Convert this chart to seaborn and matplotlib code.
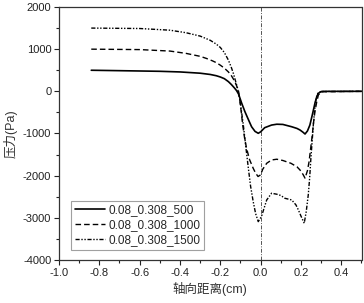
import numpy as np
import pandas as pd
import matplotlib
matplotlib.use("Agg")
import matplotlib.pyplot as plt
from matplotlib.ticker import MultipleLocator
import seaborn as sns

labels = ["0.08_0.308_500", "0.08_0.308_1000", "0.08_0.308_1500"]

x_500 = [-0.84, -0.7, -0.5, -0.4, -0.3, -0.25, -0.22, -0.2, -0.18, -0.16, -0.145, -0.13, -0.12, -0.11,
         -0.095, -0.078, -0.06, -0.045, -0.028, -0.012, 0.0, 0.02, 0.054, 0.08, 0.11, 0.154, 0.18, 0.195,
         0.21, 0.22, 0.232, 0.244, 0.256, 0.269, 0.278, 0.286, 0.298, 0.31, 0.5]
y_500 = [500, 490, 475, 460, 430, 400, 370, 340, 300, 230, 160, 80, 20, -60,
         -270, -483, -680, -840, -950, -995, -960, -862, -800, -780, -785, -840, -880, -917,
         -970, -1012, -940, -800, -560, -285, -130, -47, -10, 0, 0]

x_1000 = [-0.84, -0.6, -0.45, -0.37, -0.3, -0.27, -0.24, -0.22, -0.2, -0.18, -0.16, -0.145, -0.13, -0.12,
          -0.11, -0.1, -0.09, -0.08, -0.07, -0.055, -0.037, -0.025, -0.013, 0.0, 0.01, 0.03, 0.054, 0.08,
          0.11, 0.15, 0.18, 0.195, 0.21, 0.22, 0.232, 0.24, 0.248, 0.256, 0.262, 0.269, 0.278, 0.286,
          0.30, 0.5]
y_1000 = [1000, 990, 955, 900, 830, 782, 725, 680, 620, 550, 460, 370, 250, 140,
          10, -330, -760, -1100, -1350, -1620, -1825, -1940, -2020, -1980, -1850, -1706, -1628, -1610,
          -1640, -1706, -1790, -1865, -1970, -2060, -1880, -1668, -1350, -1035, -750, -483, -250, -88,
          -10, 0]

x_1500 = [-0.84, -0.6, -0.45, -0.37, -0.3, -0.25, -0.22, -0.2, -0.18, -0.16, -0.145, -0.135, -0.125,
          -0.115, -0.105, -0.095, -0.086, -0.074, -0.061, -0.05, -0.037, -0.025, -0.012, 0.004, 0.015,
          0.03, 0.054, 0.08, 0.1, 0.12, 0.154, 0.175, 0.187, 0.2, 0.216, 0.226, 0.236, 0.243, 0.249,
          0.255, 0.261, 0.267, 0.272, 0.28, 0.286, 0.30, 0.5]
y_1500 = [1500, 1490, 1450, 1390, 1310, 1210, 1120, 1040, 920, 740, 560, 420, 250,
          80, -150, -480, -800, -1300, -1825, -2250, -2616, -2900, -3090, -2970, -2800,
          -2576, -2417, -2440, -2470, -2536, -2576, -2694, -2813, -2960, -3128, -2850, -2457, -2050, -1588,
          -1200, -800, -480, -246, -80, -30, -5, 0]

x_ticks = [-1.0, -0.8, -0.6, -0.4, -0.2, 0.0, 0.2, 0.4]
y_ticks = [-4000, -3000, -2000, -1000, 0, 1000, 2000]

sns.set_style("ticks")
plt.rcParams['font.family'] = ['Liberation Sans', 'Noto Sans CJK SC', 'DejaVu Sans']

fig = plt.figure(figsize=(3.64, 3.03), dpi=100)
ax = fig.add_axes([59/364, 1-260/303, (361.5-59)/364, (260-7)/303])

series = [(x_500, y_500, labels[0], '-', 1.2),
          (x_1000, y_1000, labels[1], (0, (4, 2.2)), 1.0),
          (x_1500, y_1500, labels[2], (0, (3, 1.2, 1, 1.2, 1, 1.2)), 1.0)]
for xs, ys, lab, ls, lw in series:
    df = pd.DataFrame({"x": xs, "y": ys})
    sns.lineplot(data=df, x="x", y="y", ax=ax, color="black", linestyle=ls,
                 linewidth=lw, label=lab, sort=False, estimator=None)

ax.axvline(0, color="#555555", lw=0.7, linestyle=(0, (4, 1.5, 1, 1.5)), zorder=0)

ax.set_xlim(-1.0, 0.5)
ax.set_ylim(-4000, 2000)
ax.set_xticks(x_ticks)
ax.set_xticklabels([f"{v:.1f}" for v in x_ticks])
ax.set_yticks(y_ticks)
ax.set_yticklabels([str(v) for v in y_ticks])
ax.xaxis.set_minor_locator(MultipleLocator(0.1))
ax.yaxis.set_minor_locator(MultipleLocator(500))
ax.tick_params(axis='both', which='major', direction='out', length=3.5, width=0.8,
               labelsize=8, colors='#222222', pad=2)
ax.tick_params(axis='both', which='minor', direction='out', length=2, width=0.8, colors='#222222')
for s in ax.spines.values():
    s.set_visible(True)
    s.set_color('#333333')
    s.set_linewidth(0.9)

ax.set_xlabel("轴向距离(cm)", fontsize=9, color='#333333', labelpad=3)
ax.set_ylabel("压力(Pa)", fontsize=9, color='#333333', labelpad=4)

leg = ax.legend(loc='lower left', bbox_to_anchor=(0.04, 0.04), borderaxespad=0,
                fontsize=8.5, frameon=True, fancybox=False, handlelength=2.6,
                handletextpad=0.3, labelspacing=0.25, borderpad=0.3)
leg.get_frame().set_edgecolor('#888888')
leg.get_frame().set_linewidth(0.8)

fig.savefig("out.png", dpi=100)
